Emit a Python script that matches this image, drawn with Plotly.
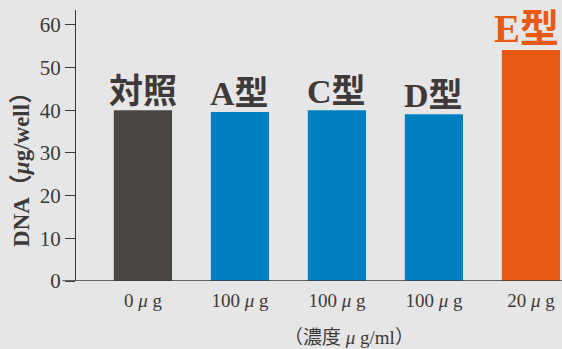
import plotly.graph_objects as go

categories = ["0 μ g", "100 μ g", "100 μ g", "100 μ g", "20 μ g"]
labels = ["対照", "A型", "C型", "D型", "E型"]
values = [40.0, 39.6, 40.0, 39.1, 54.1]
colors = ["#4a4644", "#0080c0", "#0080c0", "#0080c0", "#e85a14"]
label_colors = ["#3d3a39", "#3d3a39", "#3d3a39", "#3d3a39", "#e85a14"]
label_sizes = [34, 34, 34, 34, 39]
y_ticks = [0, 10, 20, 30, 40, 50, 60]

FONT = "Liberation Serif, Noto Sans CJK JP, serif"
TXT = "#3d3a39"

x_idx = list(range(len(categories)))
ticktext = [c.replace("μ", "<i>μ</i>") for c in categories]

fig = go.Figure()
fig.add_trace(go.Bar(
    x=x_idx, y=values, marker_color=colors,
    marker_line_width=0, width=0.6, showlegend=False,
))

for i, (lab, v) in enumerate(zip(labels, values)):
    fig.add_annotation(
        x=i, y=v, text=f"<b>{lab}</b>", showarrow=False, xanchor="center",
        yanchor="bottom", yshift=-2, xshift=(-4 if i == len(labels) - 1 else 0),
        font=dict(family=FONT, size=label_sizes[i], color=label_colors[i]),
    )

# y-axis title
fig.add_annotation(
    x=-0.111, y=0.432, xref="paper", yref="paper",
    text="<b>DNA（<i>μ</i>g/well）</b>", textangle=-90, showarrow=False,
    xanchor="center", yanchor="middle",
    font=dict(family=FONT, size=23, color=TXT),
)
# x-axis title
fig.add_annotation(
    x=0.562, y=-0.207, xref="paper", yref="paper", text="（濃度 <i>μ</i> g/ml）",
    showarrow=False, xanchor="center", yanchor="middle",
    font=dict(family=FONT, size=19, color=TXT),
)

# x-axis base line extending left past the y axis
fig.add_shape(type="line", xref="paper", yref="y", x0=-0.028, x1=1, y0=0, y1=0,
              line=dict(color=TXT, width=1.3))

fig.update_layout(
    width=562, height=349,
    margin=dict(l=76, r=0, t=10, b=68),
    paper_bgcolor="#e6e6e6", plot_bgcolor="#e6e6e6",
    font=dict(family=FONT, color=TXT, size=19),
    xaxis=dict(
        range=[-0.69, 4.32], tickmode="array", tickvals=x_idx,
        ticktext=ticktext,
        showgrid=False, zeroline=False, showline=False, ticks="",
        tickfont=dict(family=FONT, size=19, color=TXT), ticklabelstandoff=6,
    ),
    yaxis=dict(
        range=[0, 63.5], tickvals=y_ticks, showgrid=False, zeroline=False,
        showline=True, linecolor=TXT, linewidth=1.3,
        ticks="outside", ticklen=10, tickcolor=TXT, tickwidth=1,
        tickfont=dict(family=FONT, size=21, color=TXT), ticklabelstandoff=0,
    ),
)

fig.write_html("out.html")
